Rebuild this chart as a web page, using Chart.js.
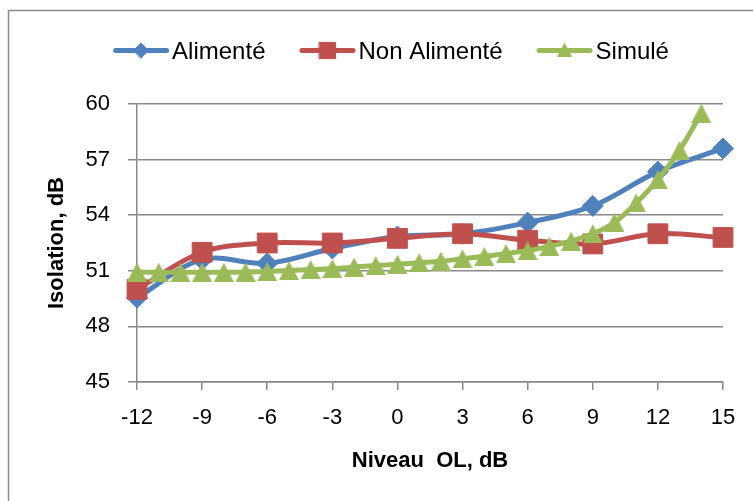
<!DOCTYPE html>
<html><head><meta charset="utf-8">
<script src="https://cdn.jsdelivr.net/npm/chart.js@4/dist/chart.umd.min.js"></script>
<style>html,body{margin:0;padding:0;background:#fff;}#wrap{position:relative;width:753px;height:501px;}</style>
</head><body><div id="wrap"><canvas id="c" width="753" height="501"></canvas></div>
<script>
const seriesNames = ['Alimenté', 'Non Alimenté', 'Simulé'];
const xMeasured = [-12, -9, -6, -3, 0, 3, 6, 9, 12, 15];
const alimente = [49.55, 51.6, 51.4, 52.2, 52.85, 53.0, 53.6, 54.5, 56.35, 57.6];
const nonAlimente = [50.0, 52.0, 52.5, 52.5, 52.75, 53.0, 52.65, 52.45, 53.0, 52.8];
const xSimule = [-12, -11, -10, -9, -8, -7, -6, -5, -4, -3, -2, -1, 0, 1, 2, 3, 4, 5, 6, 7, 8, 9, 10, 11, 12, 13, 14];
const simule = [50.93, 50.92, 50.92, 50.92, 50.92, 50.93, 50.96, 51.01, 51.07, 51.12, 51.2, 51.28, 51.36, 51.44, 51.52, 51.65, 51.78, 51.93, 52.09, 52.32, 52.6, 53.0, 53.61, 54.66, 55.92, 57.5, 59.5];
const xTicks = [-12, -9, -6, -3, 0, 3, 6, 9, 12, 15];
const yTicks = [45, 48, 51, 54, 57, 60];
const xTitle = 'Niveau  OL, dB';
const yTitle = 'Isolation, dB';

const BLUE = '#4F81BD', RED = '#C0504D', GREEN = '#9BBB59';
const GRID = '#888888';
const FONT = "'Liberation Sans', Arial, sans-serif";

function triangleImage(color, w, h) {
  const c = document.createElement('canvas'); c.width = w; c.height = h;
  const g = c.getContext('2d');
  g.fillStyle = color; g.beginPath();
  g.moveTo(w / 2, 0); g.lineTo(w, h); g.lineTo(0, h); g.closePath(); g.fill();
  return c;
}
const triPoint = triangleImage(GREEN, 20, 19);
const triLegend = triangleImage(GREEN, 15, 14);

const toPoints = (xs, ys) => xs.map((x, i) => ({x: x, y: ys[i]}));

const common = {borderWidth: 5, tension: 0.35, borderCapStyle: 'round', borderJoinStyle: 'round', pointBorderWidth: 1, clip: false, fill: false};

const legendItems = [
  {name: seriesNames[0], color: BLUE, style: 'rectRot', radius: 7.5},
  {name: seriesNames[1], color: RED, style: 'rect', radius: 11.5},
  {name: seriesNames[2], color: GREEN, style: triLegend, radius: 7}
];

const framePlugin = {
  id: 'frame',
  beforeDraw(chart) {
    const ctx = chart.ctx; ctx.save();
    ctx.strokeStyle = '#8a8a8a'; ctx.lineWidth = 1.5;
    ctx.strokeRect(8.5, 10.5, 800, 600);
    ctx.restore();
  },
  afterDraw(chart) {
    const ctx = chart.ctx; ctx.save();
    ctx.font = '24px ' + FONT;
    const symW = 56, gapT = 3, gapI = 34;
    const widths = legendItems.map(it => symW + gapT + ctx.measureText(it.name).width);
    const total = widths.reduce((a, b) => a + b, 0) + gapI * (legendItems.length - 1);
    let x = 391 - total / 2;
    const y = 50.5;
    legendItems.forEach((it, i) => {
      ctx.strokeStyle = it.color; ctx.lineWidth = 5; ctx.lineCap = 'round';
      ctx.beginPath(); ctx.moveTo(x + 2.5, y); ctx.lineTo(x + symW - 2.5, y); ctx.stroke();
      const cx = x + symW / 2;
      if (typeof it.style === 'string') {
        ctx.fillStyle = it.color; ctx.strokeStyle = it.color; ctx.lineWidth = 1;
        Chart.helpers.drawPoint(ctx, {pointStyle: it.style, radius: it.radius, rotation: 0, borderWidth: 1}, cx, y);
      } else {
        ctx.drawImage(it.style, cx - it.style.width / 2, y - it.style.height / 2 - 1);
      }
      ctx.fillStyle = '#000'; ctx.textBaseline = 'alphabetic'; ctx.textAlign = 'left';
      ctx.fillText(it.name, x + symW + gapT, y + 8.5);
      x += widths[i] + gapI;
    });
    ctx.restore();
  }
};

new Chart(document.getElementById('c'), {
  type: 'line',
  data: {
    datasets: [
      Object.assign({label: seriesNames[0], data: toPoints(xMeasured, alimente), borderColor: BLUE, backgroundColor: BLUE, pointBorderColor: BLUE, pointStyle: 'rectRot', pointRadius: 10.5, order: 2}, common),
      Object.assign({label: seriesNames[1], data: toPoints(xMeasured, nonAlimente), borderColor: RED, backgroundColor: RED, pointBorderColor: RED, pointStyle: 'rect', pointRadius: 14, order: 1}, common),
      Object.assign({label: seriesNames[2], data: toPoints(xSimule, simule), borderColor: GREEN, backgroundColor: GREEN, pointBorderColor: GREEN, pointStyle: triPoint, pointRadius: 10, order: 0}, common)
    ]
  },
  options: {
    responsive: false, animation: false, events: [],
    layout: {padding: {top: 104, right: 30, left: 0, bottom: 0}},
    plugins: {legend: {display: false}, tooltip: {enabled: false}},
    scales: {
      x: {
        type: 'linear', min: -12, max: 15,
        afterBuildTicks: s => { s.ticks = xTicks.map(v => ({value: v})); },
        afterFit: s => { s.height = 119; },
        grid: {drawOnChartArea: false, drawTicks: true, tickLength: 8, color: GRID, lineWidth: 1.5},
        border: {display: true, color: GRID, width: 1.5},
        ticks: {autoSkip: false, maxRotation: 0, padding: 15, color: '#000', font: {family: FONT, size: 22}},
        title: {display: true, text: xTitle, color: '#000', font: {family: FONT, size: 22, weight: 'bold'}, padding: {top: 0, bottom: 27}}
      },
      y: {
        min: 45, max: 60,
        afterBuildTicks: s => { s.ticks = yTicks.map(v => ({value: v})); },
        afterFit: s => { s.width = 137; },
        grid: {drawTicks: true, tickLength: 9, color: GRID, lineWidth: 1.5},
        border: {display: true, color: GRID, width: 1.5},
        ticks: {padding: 18, color: '#000', font: {family: FONT, size: 22}},
        title: {display: true, text: yTitle, color: '#000', font: {family: FONT, size: 22, weight: 'bold'}, padding: {top: 44, bottom: 0}}
      }
    }
  },
  plugins: [framePlugin]
});
</script></body></html>
